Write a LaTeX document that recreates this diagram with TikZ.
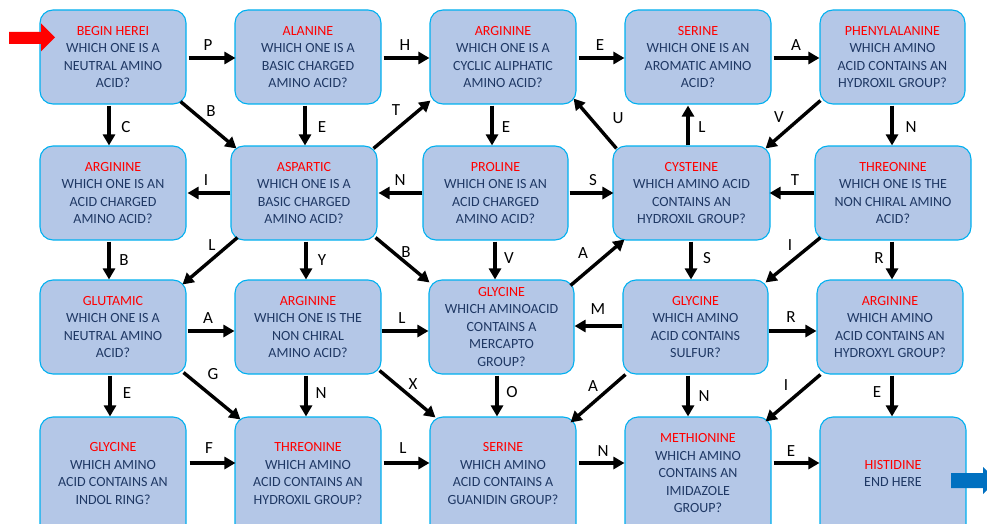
\documentclass[tikz,border=0pt]{standalone}
\usepackage{fontspec}
\setmainfont{Carlito}
\usetikzlibrary{arrows.meta}
\definecolor{boxfill}{HTML}{B4C7E7}
\definecolor{boxline}{HTML}{00B0F0}
\definecolor{titlered}{HTML}{FF0000}
\definecolor{txtblue}{HTML}{1F3864}
\definecolor{endblue}{HTML}{0070C0}
\newcommand{\ttl}[1]{\textcolor{titlered}{#1}}
\tikzset{
  box/.style={draw=boxline, fill=boxfill, line width=1.1pt, rounded corners=13pt,
    align=center, inner sep=0pt, text=txtblue,
    font=\fontsize{14}{17.5}\selectfont, minimum height=94pt},
  lowbox/.style={box, minimum height=130pt},
  arr/.style={line width=3.4pt, -{Triangle[length=11pt,width=12pt]}},
  lbl/.style={font=\fontsize{17}{17}\selectfont, text=black, inner sep=0pt}
}
\begin{document}
\begin{tikzpicture}[x=1pt,y=-1pt]
\useasboundingbox (0,0) rectangle (987,524);
\clip (0,0) rectangle (987,524);
% row 1
\node[box, minimum width=146pt] (b11) at (113,57) {\ttl{BEGIN HEREI}\\WHICH ONE IS A\\NEUTRAL AMINO\\ACID?};
\node[box, minimum width=146pt] (b12) at (308,57) {\ttl{ALANINE}\\WHICH ONE IS A\\BASIC CHARGED\\AMINO ACID?};
\node[box, minimum width=146pt] (b13) at (503,57) {\ttl{ARGININE}\\WHICH ONE IS A\\CYCLIC ALIPHATIC\\AMINO ACID?};
\node[box, minimum width=146pt] (b14) at (698,57) {\ttl{SERINE}\\WHICH ONE IS AN\\AROMATIC AMINO\\ACID?};
\node[box, minimum width=145pt] (b15) at (892.5,57) {\ttl{PHENYLALANINE}\\WHICH AMINO\\ACID CONTAINS AN\\HYDROXIL GROUP?};
% row 2
\node[box, minimum width=146pt] (b21) at (113,193) {\ttl{ARGININE}\\WHICH ONE IS AN\\ACID CHARGED\\AMINO ACID?};
\node[box, minimum width=146pt] (b22) at (304,193) {\ttl{ASPARTIC}\\WHICH ONE IS A\\BASIC CHARGED\\AMINO ACID?};
\node[box, minimum width=145pt] (b23) at (495.5,193) {\ttl{PROLINE}\\WHICH ONE IS AN\\ACID CHARGED\\AMINO ACID?};
\node[box, minimum width=157pt] (b24) at (691.5,193) {\ttl{CYSTEINE}\\WHICH AMINO ACID\\CONTAINS AN\\HYDROXIL GROUP?};
\node[box, minimum width=156pt] (b25) at (893,193) {\ttl{THREONINE}\\WHICH ONE IS THE\\NON CHIRAL AMINO\\ACID?};
% row 3
\node[box, minimum width=146pt] (b31) at (113,327) {\ttl{GLUTAMIC}\\WHICH ONE IS A\\NEUTRAL AMINO\\ACID?};
\node[box, minimum width=146pt] (b32) at (308,327) {\ttl{ARGININE}\\WHICH ONE IS THE\\NON CHIRAL\\AMINO ACID?};
\node[box, minimum width=145pt] (b33) at (501.5,327) {\ttl{GLYCINE}\\WHICH AMINOACID\\CONTAINS A\\MERCAPTO\\GROUP?};
\node[box, minimum width=145pt] (b34) at (695.5,327) {\ttl{GLYCINE}\\WHICH AMINO\\ACID CONTAINS\\SULFUR?};
\node[box, minimum width=146pt] (b35) at (890,327) {\ttl{ARGININE}\\WHICH AMINO\\ACID CONTAINS AN\\HYDROXYL GROUP?};
% row 4 (boxes run past the lower edge)
\node[lowbox, minimum width=146pt] (b41) at (113,482) {\ttl{GLYCINE}\\WHICH AMINO\\ACID CONTAINS AN\\INDOL RING?\\\mbox{}};
\node[lowbox, minimum width=146pt] (b42) at (308,482) {\ttl{THREONINE}\\WHICH AMINO\\ACID CONTAINS AN\\HYDROXIL GROUP?\\\mbox{}};
\node[lowbox, minimum width=146pt] (b43) at (503,482) {\ttl{SERINE}\\WHICH AMINO\\ACID CONTAINS A\\GUANIDIN GROUP?\\\mbox{}};
\node[lowbox, minimum width=146pt] (b44) at (698,482) {\ttl{METHIONINE}\\WHICH AMINO\\CONTAINS AN\\IMIDAZOLE\\GROUP?\\\mbox{}};
\node[lowbox, minimum width=146pt] (b45) at (893,482) {\ttl{HISTIDINE}\\END HERE\\\mbox{}};
% start and end arrows
\fill[titlered] (9,32) -- (41,32) -- (41,23.5) -- (55,37.5) -- (41,51.5) -- (41,44) -- (9,44) -- cycle;
\fill[endblue] (951,473) -- (983,473) -- (983,467) -- (997,480.5) -- (983,494) -- (983,488) -- (951,488) -- cycle;
% row 1 horizontals
\draw[arr] ([shift={(2,1)}]b11.east) -- ([shift={(1,1)}]b12.west);
\draw[arr] ([shift={(2,1)}]b12.east) -- ([shift={(0,1)}]b13.west);
\draw[arr] ([shift={(2,1)}]b13.east) -- ([shift={(0,1)}]b14.west);
\draw[arr] ([shift={(2,1)}]b14.east) -- ([shift={(0,1)}]b15.west);
% row 1 -> row 2
\draw[arr] ([shift={(-4,1)}]b11.south) -- ([shift={(-4,0)}]b21.north);
\draw[arr] ([shift={(-3,1)}]b12.south) -- ([shift={(1,0)}]b22.north);
\draw[arr] ([shift={(-11,1)}]b13.south) -- ([shift={(-3.5,0)}]b23.north);
\draw[arr] ([shift={(-3.5,0)}]b24.north) -- ([shift={(-10,1)}]b14.south);
\draw[arr] ([shift={(-0.5,1)}]b15.south) -- ([shift={(-1,0)}]b25.north);
\draw[arr] ([shift={(-6,-3)}]b11.south east) -- ([shift={(6,3)}]b22.north west);
\draw[arr] ([shift={(-4,3)}]b22.north east) -- ([shift={(1,-4)}]b13.south west);
\draw[arr] ([shift={(4,3)}]b24.north west) -- ([shift={(-3,-6)}]b13.south east);
\draw[arr] ([shift={(1,-4)}]b15.south west) -- ([shift={(-5,3)}]b24.north east);
% row 2 horizontals
\draw[arr] (b22.west) -- ([shift={(1,0)}]b21.east);
\draw[arr] (b23.west) -- ([shift={(1,0)}]b22.east);
\draw[arr] ([shift={(1,0)}]b23.east) -- ([shift={(1,0)}]b24.west);
\draw[arr] (b25.west) -- ([shift={(-1,0)}]b24.east);
% row 2 -> row 3
\draw[arr] ([shift={(-4,1)}]b21.south) -- ([shift={(-4,0)}]b31.north);
\draw[arr] ([shift={(2,1)}]b22.south) -- ([shift={(-2,0)}]b32.north);
\draw[arr] ([shift={(-0.5,1)}]b23.south) -- ([shift={(-6.5,0)}]b33.north);
\draw[arr] ([shift={(-0.5,1)}]b24.south) -- ([shift={(-4.5,0)}]b34.north);
\draw[arr] ([shift={(-1,1)}]b25.south) -- ([shift={(2,0)}]b35.north);
\draw[arr] ([shift={(7,-3)}]b22.south west) -- ([shift={(-4,5)}]b31.north east);
\draw[arr] ([shift={(-2,-3)}]b22.south east) -- ([shift={(1,3)}]b33.north west);
\draw[arr] ([shift={(-4,6)}]b33.north east) -- ([shift={(12,-1)}]b24.south west);
\draw[arr] ([shift={(6,-3)}]b25.south west) -- ([shift={(-3,3)}]b34.north east);
% row 3 horizontals
\draw[arr] ([shift={(1,4)}]b31.east) -- ([shift={(0,4)}]b32.west);
\draw[arr] ([shift={(0,4)}]b32.east) -- ([shift={(0,4)}]b33.west);
\draw[arr] ([shift={(0,-1)}]b34.west) -- ([shift={(0,-1)}]b33.east);
\draw[arr] ([shift={(0,4)}]b34.east) -- ([shift={(0,4)}]b35.west);
% row 3 -> row 4
\draw[arr] ([shift={(-3,1)}]b31.south) -- ([shift={(-3,0)}]b41.north);
\draw[arr] ([shift={(-2,1)}]b32.south) -- ([shift={(-2,0)}]b42.north);
\draw[arr] ([shift={(-4.5,1)}]b33.south) -- ([shift={(-6,0)}]b43.north);
\draw[arr] ([shift={(-7.5,1)}]b34.south) -- ([shift={(-10,0)}]b44.north);
\draw[arr] ([shift={(2,1)}]b35.south) -- ([shift={(-1,0)}]b45.north);
\draw[arr] ([shift={(-3,-2)}]b31.south east) -- ([shift={(6,3)}]b42.north west);
\draw[arr] ([shift={(-2,-4)}]b32.south east) -- ([shift={(6,1)}]b43.north west);
\draw[arr] ([shift={(3,0)}]b34.south west) -- ([shift={(-6,6)}]b43.north east);
\draw[arr] ([shift={(4,0)}]b35.south west) -- ([shift={(-6,5)}]b44.north east);
% row 4 horizontals (at y = 463)
\draw[arr] ([shift={(3,-19)}]b41.east) -- ([shift={(1,-19)}]b42.west);
\draw[arr] ([shift={(2,-19)}]b42.east) -- ([shift={(0,-19)}]b43.west);
\draw[arr] ([shift={(2,-19)}]b43.east) -- ([shift={(0,-19)}]b44.west);
\draw[arr] ([shift={(2,-19)}]b44.east) -- ([shift={(0,-19)}]b45.west);
% labels
\node[lbl] (l01) at (208,45) {P};
\node[lbl] (l02) at (405,45) {H};
\node[lbl] (l03) at (600,45) {E};
\node[lbl] (l04) at (796,45) {A};
\node[lbl] (l05) at (126,127) {C};
\node[lbl] (l06) at (211,111) {B};
\node[lbl] (l07) at (322,127) {E};
\node[lbl] (l08) at (396,110) {T};
\node[lbl] (l09) at (506,127) {E};
\node[lbl] (l10) at (618,118) {U};
\node[lbl] (l11) at (702,127) {L};
\node[lbl] (l12) at (779,117) {V};
\node[lbl] (l13) at (911,127) {N};
\node[lbl] (l14) at (206,180) {I};
\node[lbl] (l15) at (400,180) {N};
\node[lbl] (l16) at (593,180) {S};
\node[lbl] (l17) at (795,180) {T};
\node[lbl] (l18) at (124,260) {B};
\node[lbl] (l19) at (212,245) {L};
\node[lbl] (l20) at (322,260) {Y};
\node[lbl] (l21) at (406,252) {B};
\node[lbl] (l22) at (509,258) {V};
\node[lbl] (l23) at (583,253) {A};
\node[lbl] (l24) at (707,258) {S};
\node[lbl] (l25) at (790,245) {I};
\node[lbl] (l26) at (879,258) {R};
\node[lbl] (l27) at (208,318) {A};
\node[lbl] (l28) at (402,318) {L};
\node[lbl] (l29) at (598,309) {M};
\node[lbl] (l30) at (791,317) {R};
\node[lbl] (l31) at (127,393) {E};
\node[lbl] (l32) at (213,374) {G};
\node[lbl] (l33) at (321,393) {N};
\node[lbl] (l34) at (413,384) {X};
\node[lbl] (l35) at (512,392) {O};
\node[lbl] (l36) at (593,386) {A};
\node[lbl] (l37) at (704,396) {N};
\node[lbl] (l38) at (786,385) {I};
\node[lbl] (l39) at (877,392) {E};
\node[lbl] (l40) at (209,448) {F};
\node[lbl] (l41) at (403,448) {L};
\node[lbl] (l42) at (603,451) {N};
\node[lbl] (l43) at (791,451) {E};
\end{tikzpicture}
\end{document}
